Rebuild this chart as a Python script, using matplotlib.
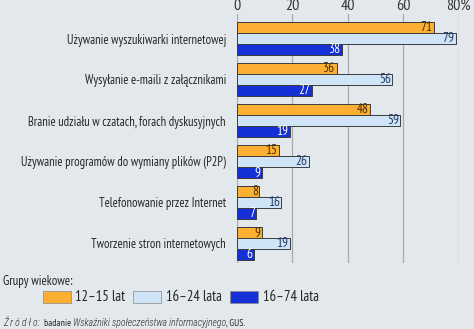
import matplotlib
matplotlib.use("Agg")
import matplotlib.pyplot as plt
from matplotlib.patches import Rectangle

categories = [
    "Używanie wyszukiwarki internetowej",
    "Wysyłanie e-maili z załącznikami",
    "Branie udziału w czatach, forach dyskusyjnych",
    "Używanie programów do wymiany plików (P2P)",
    "Telefonowanie przez Internet",
    "Tworzenie stron internetowych",
]
series_names = ["12–15 lat", "16–24 lata", "16–74 lata"]
vals_12_15 = [71, 36, 48, 15, 8, 9]
vals_16_24 = [79, 56, 59, 26, 16, 19]
vals_16_74 = [38, 27, 19, 9, 7, 6]
tick_values = [0, 20, 40, 60, 80]
tick_labels = ["0", "20", "40", "60", "80%"]
legend_title = "Grupy wiekowe:"

series = [vals_12_15, vals_16_24, vals_16_74]
fills = ["#fbb034", "#cfe4f6", "#1630d8"]
label_colors = ["#4a2e00", "#243866", "#ffffff"]

NARROW = ["PT Sans Narrow", "Roboto Condensed", "DejaVu Sans"]
ITALIC = ["Roboto Condensed", "DejaVu Sans"]
plt.rcParams["font.family"] = NARROW

BG = "#e2e8eb"
W, H = 474, 329
fig = plt.figure(figsize=(W / 100, H / 100), dpi=100, facecolor=BG)

top_px, bot_px = 14, 263
ax = fig.add_axes([237 / W, 1 - bot_px / H, (458.6 - 237) / W, (bot_px - top_px) / H])
ax.set_facecolor(BG)
for s in ax.spines.values():
    s.set_visible(False)

bh = 11 / 41
offsets = [-bh, 0, bh]
for k, (vals, fc, lc) in enumerate(zip(series, fills, label_colors)):
    ys = [i + offsets[k] for i in range(len(categories))]
    bars = ax.barh(ys, vals, height=bh, color=fc, edgecolor="#3c3c3c",
                   linewidth=0.7, zorder=3)
    for b, v in zip(bars, vals):
        ax.text(b.get_width() - 0.5, b.get_y() + b.get_height() / 2, str(v),
                ha="right", va="center", fontsize=9.5, color=lc, zorder=4)

ax.set_xlim(0, 80)
ax.set_ylim(5 + 0.5 - 0.024, -0.402 - 8 / 41)
for t in tick_values:
    ax.axvline(t, color="#a6aaac", linewidth=0.9, zorder=1)

ax.xaxis.tick_top()
ax.set_xticks(tick_values)
ax.set_xticklabels(tick_labels, fontsize=11.5, color="#333333")
ax.tick_params(axis="x", length=0, pad=1)
ax.set_yticks(range(len(categories)))
ax.set_yticklabels(categories, fontsize=9, color="#262626")
ax.tick_params(axis="y", length=0, pad=8)

# legend
fig.text(3 / W, 1 - 281 / H, legend_title, fontsize=9.2, color="#262626",
         ha="left", va="center")
patch_x = [43, 133, 230]
text_x = [75, 166, 263]
for px, tx, fc, name in zip(patch_x, text_x, fills, series_names):
    fig.patches.append(Rectangle((px / W, 1 - 303 / H), 28 / W, 12 / H,
                                 transform=fig.transFigure, facecolor=fc,
                                 edgecolor="#8a8a8a", linewidth=0.5))
    fig.text(tx / W, 1 - 297 / H, name, fontsize=10.5, color="#262626",
             ha="left", va="center")

# source line
pieces = [("Ź r ó d ł o:  ", "italic"), ("badanie ", "normal"),
          ("Wskaźniki społeczeństwa informacyjnego", "italic"), (", GUS.", "normal")]
renderer = fig.canvas.get_renderer()
x = 3
for txt, style in pieces:
    fam = ITALIC if style == "italic" else NARROW
    t = fig.text(x / W, 1 - 323 / H, txt, fontsize=7, style=style, family=fam,
                 weight="light" if style == "italic" else "normal",
                 color="#262626", ha="left", va="center")
    bb = t.get_window_extent(renderer)
    x += bb.width

fig.savefig("out.png", dpi=100, facecolor=BG)
